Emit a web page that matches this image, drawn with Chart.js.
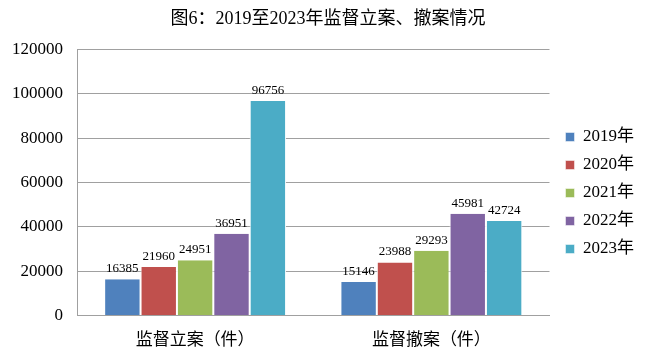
<!DOCTYPE html>
<html><head><meta charset="utf-8">
<script src="https://cdn.jsdelivr.net/npm/chart.js@4"></script>
<style>html,body{margin:0;padding:0;background:#fff}#wrap{width:650px;height:357px}</style>
</head><body><div id="wrap"><canvas id="c" width="650" height="357"></canvas></div>
<script>
const categories = ['监督立案（件）', '监督撤案（件）'];
const seriesNames = ['2019年', '2020年', '2021年', '2022年', '2023年'];
const v2019 = [16385, 15146];
const v2020 = [21960, 23988];
const v2021 = [24951, 29293];
const v2022 = [36951, 45981];
const v2023 = [96756, 42724];
const yTicks = [0, 20000, 40000, 60000, 80000, 100000, 120000];
const colors = ['#4F81BD', '#C0504D', '#9BBB59', '#8064A2', '#4BACC6'];
const seriesValues = [v2019, v2020, v2021, v2022, v2023];

const serif = '"Liberation Serif", "Noto Sans CJK SC", serif';
Chart.defaults.font.family = serif;
Chart.defaults.color = '#000';

const labelPlugin = {
  id: 'barLabels',
  afterDatasetsDraw(chart) {
    const ctx = chart.ctx;
    ctx.save();
    ctx.font = '13px ' + serif;
    ctx.fillStyle = '#000';
    ctx.textAlign = 'center';
    ctx.textBaseline = 'bottom';
    chart.data.datasets.forEach((ds, i) => {
      const meta = chart.getDatasetMeta(i);
      meta.data.forEach((bar, j) => {
        ctx.fillText(String(ds.data[j]), bar.x, bar.y - 4);
      });
    });
    ctx.restore();
  }
};

new Chart(document.getElementById('c'), {
  type: 'bar',
  data: {
    labels: categories,
    datasets: seriesNames.map((n, i) => ({
      label: n,
      data: seriesValues[i],
      backgroundColor: colors[i],
      borderColor: '#ffffff',
      borderWidth: {left: 1, right: 1, top: 0, bottom: 0},
      borderSkipped: false,
      categoryPercentage: 0.77,
      barPercentage: 1.0,
      yAxisID: 'y'
    }))
  },
  options: {
    responsive: false,
    animation: false,
    layout: {padding: {left: 12, right: 6, top: 4, bottom: -9}},
    plugins: {
      title: {
        display: true,
        text: '图6：2019至2023年监督立案、撤案情况',
        color: '#000',
        font: {family: serif, size: 18, weight: 'normal'},
        padding: {top: 4, bottom: 20}
      },
      legend: {
        position: 'right',
        align: 'center',
        title: {display: true, text: ' ', font: {size: 10}, padding: 2},
        labels: {
          boxWidth: 9, boxHeight: 9, padding: 11,
          color: '#000',
          font: {family: serif, size: 17}
        }
      },
      tooltip: {enabled: false}
    },
    scales: {
      x: {
        grid: {display: false, drawTicks: false},
        border: {display: true, color: '#a0a0a0', width: 1},
        ticks: {color: '#000', font: {family: serif, size: 17}, padding: 15}
      },
      y: {
        min: 0, max: 120000,
        afterBuildTicks(axis) { axis.ticks = yTicks.map(v => ({value: v})); },
        afterFit(axis) { axis.width = 65; },
        grid: {color: '#a0a0a0', drawTicks: false},
        border: {display: true, color: '#a0a0a0', width: 1},
        ticks: {color: '#000', font: {family: serif, size: 17}, padding: 14,
                callback: (v) => String(v)}
      },
      ySpacer: {
        type: 'linear',
        position: 'right',
        display: true,
        grid: {display: false, drawTicks: false},
        border: {display: false},
        ticks: {display: false},
        afterFit(axis) { axis.width = 5; }
      }
    }
  },
  plugins: [labelPlugin]
});
</script>
</body></html>
